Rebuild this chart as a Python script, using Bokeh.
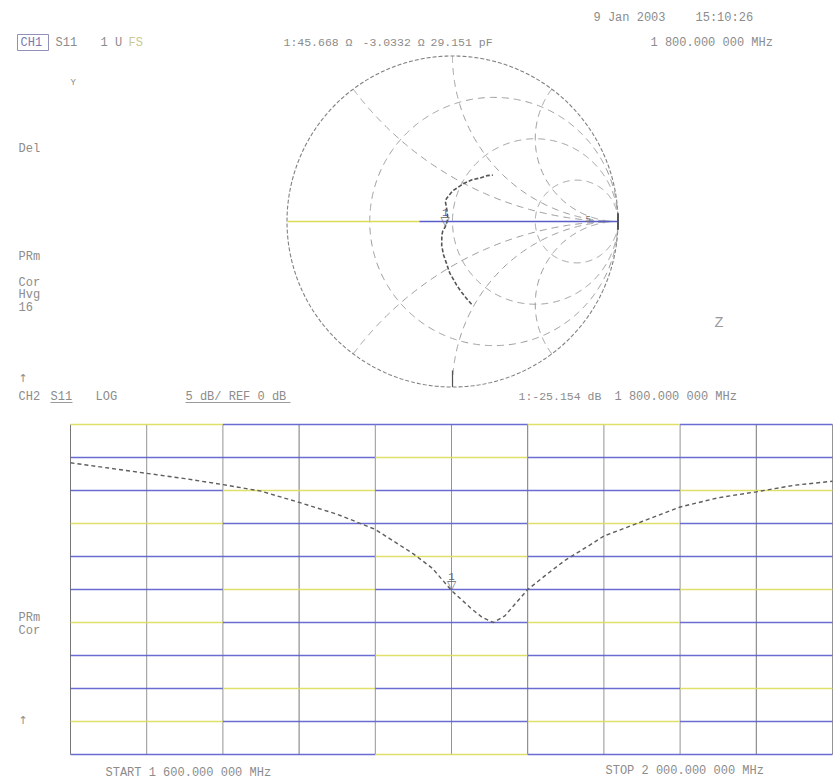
import numpy as np
from bokeh.plotting import figure
from bokeh.models import Range1d
from bokeh.embed import file_html
from bokeh.resources import INLINE
from bokeh.core.properties import value

# ---- S11 sweep, 1600-2000 MHz ----
freq_mhz = [1600, 1620, 1640, 1660, 1680, 1700, 1720, 1740, 1760, 1780, 1790, 1800,
            1810, 1816, 1822, 1828, 1834, 1840, 1850, 1860, 1873, 1880, 1900, 1920,
            1940, 1960, 1980, 2000]
s11_db = [-5.8, -6.6, -7.4, -8.2, -9.1, -10.1, -11.8, -13.6, -15.9, -19.6, -21.8, -25.154,
          -27.8, -29.2, -30.0, -29.0, -27.0, -25.0, -22.7, -20.5, -18.2, -16.9, -14.7, -12.5,
          -11.1, -10.2, -9.2, -8.6]
s11_phase_deg = [-77, -80, -83, -86, -89, -93, -98, -105, -114, -128, -136, -143.2,
                 -158, -172, -195, -215, -228, -236, -243, -247, -250, -255, -270, -286,
                 -295, -302, -307, -311]

# marker 1
marker_freq = 1800.0
marker_db = -25.154
marker_r_ohm = 45.668
marker_x_ohm = -3.0332
z0_ohm = 50.0

# log-mag graticule (5 dB/div, REF 0 dB at top)
x_ticks = [1600, 1640, 1680, 1720, 1760, 1800, 1840, 1880, 1920, 1960, 2000]
y_ticks = [0, -5, -10, -15, -20, -25, -30, -35, -40, -45, -50]

# Smith graticule
r_circles = [1 / 3, 1.0, 3.0]
x_arcs = [0.5, 1.0, 2.0, -0.5, -1.0, -2.0]

W, H = 834, 781
LM_LEFT, LM_RIGHT, LM_TOP, LM_BOTTOM = 70, 832, 424, 754
SM_CX, SM_CY, SM_R = 452, 221, 165.5

mhz_per_px = (x_ticks[-1] - x_ticks[0]) / (LM_RIGHT - LM_LEFT)
db_per_px = (y_ticks[0] - y_ticks[-1]) / (LM_BOTTOM - LM_TOP)
x_range = Range1d(x_ticks[0] - LM_LEFT * mhz_per_px, x_ticks[-1] + (W - LM_RIGHT) * mhz_per_px)
y_range = Range1d(y_ticks[-1] - (H - LM_BOTTOM) * db_per_px, y_ticks[0] + LM_TOP * db_per_px)

p = figure(width=W, height=H, x_range=x_range, y_range=y_range,
           x_axis_type=None, y_axis_type=None, toolbar_location=None,
           output_backend="svg", min_border=0, outline_line_color=None)
p.min_border_left = p.min_border_right = p.min_border_top = p.min_border_bottom = 0
p.background_fill_color = "white"
p.border_fill_color = "white"
p.extra_x_ranges = {"g": Range1d(-SM_CX / SM_R, (W - SM_CX) / SM_R)}
p.extra_y_ranges = {"g": Range1d(-(H - SM_CY) / SM_R, SM_CY / SM_R)}

BLUE = "#5a5ccc"
YELLOW = "#dcdc5a"
GRID = "#707070"
SGRID = "#9a9a9a"
TRACE = "#5e5e5e"
TEXT = "#8c8c8c"


def page(px, py):
    return x_range.start + px * mhz_per_px, y_range.end - py * db_per_px


def label(px, py, s, size="12px", color=TEXT, font="Liberation Mono", align="left"):
    x, y = page(px, py)
    p.text([x], [y], text=[s], text_font=value(font), text_font_size=size,
           text_color=color, text_align=align, text_baseline="middle")


# ---- log-mag graticule ----
for i, f in enumerate(x_ticks):
    p.line([f, f], [y_ticks[0], y_ticks[-1]], line_color=GRID, line_width=1,
           line_alpha=0.95 if i % 3 == 0 else 0.75)

seg = np.linspace(x_ticks[0], x_ticks[-1], 6)
for k, d in enumerate(y_ticks):
    for j in range(5):
        col = YELLOW if (j + k) % 3 == 0 else BLUE
        p.line([seg[j], seg[j + 1]], [d, d], line_color=col, line_width=1.5, line_alpha=0.9)

# ---- log-mag trace ----
p.line(freq_mhz, s11_db, line_color=TRACE, line_width=1.4, line_dash="4 3")
p.text([marker_freq], [marker_db], text=["▽"], text_font=value("DejaVu Sans"),
       text_font_size="12px", text_color="#666666", text_align="center",
       text_baseline="bottom", y_offset=1)
p.text([marker_freq], [marker_db], text=["1"], text_font=value("Liberation Mono"),
       text_font_size="11px", text_color="#666666", text_align="center",
       text_baseline="bottom", y_offset=-11)

# ---- Smith graticule ----
t = np.linspace(0, 2 * np.pi, 721)
p.line(np.cos(t), np.sin(t), x_range_name="g", y_range_name="g",
       line_color="#808080", line_width=1.1, line_dash="4 2")
for r in r_circles:
    c, rad = r / (1 + r), 1 / (1 + r)
    p.line(c + rad * np.cos(t), rad * np.sin(t), x_range_name="g", y_range_name="g",
           line_color=SGRID, line_width=1, line_dash="7 5")
rr = np.concatenate([[0.0], np.logspace(-3, 3, 500)])
for xv in x_arcs:
    g = (rr + 1j * xv - 1) / (rr + 1j * xv + 1)
    p.line(g.real, g.imag, x_range_name="g", y_range_name="g",
           line_color=SGRID, line_width=1, line_dash="7 5")

# real axis
p.line([-1, -0.2], [0, 0], x_range_name="g", y_range_name="g", line_color=YELLOW, line_width=1.6)
p.line([-0.2, 1], [0, 0], x_range_name="g", y_range_name="g", line_color=BLUE, line_width=1.6)
# rim ticks
p.line([0, 0], [-1, -0.9], x_range_name="g", y_range_name="g", line_color="#555555", line_width=1.2)
p.line([1, 1], [-0.05, 0.05], x_range_name="g", y_range_name="g", line_color="#555555", line_width=2)

# ---- Smith trace ----
mag = 10 ** (np.array(s11_db) / 20)
ph = np.deg2rad(np.array(s11_phase_deg))
gam = mag * np.exp(1j * ph)
p.line(gam.real, gam.imag, x_range_name="g", y_range_name="g",
       line_color="#555555", line_width=1.6, line_dash="4 2")

zm = complex(marker_r_ohm, marker_x_ohm) / z0_ohm
gm = (zm - 1) / (zm + 1)
p.text([gm.real], [gm.imag], text=["▽"], text_font=value("DejaVu Sans"),
       text_font_size="12px", text_color="#666666", text_align="center",
       text_baseline="bottom", y_offset=1, x_range_name="g", y_range_name="g")
p.text([gm.real], [gm.imag], text=["1"], text_font=value("Liberation Mono"),
       text_font_size="11px", text_color="#5a5ab0", text_align="center",
       text_baseline="bottom", y_offset=-11, x_range_name="g", y_range_name="g")

# ---- annotation text ----
label(593, 17, "9 Jan 2003")
label(695, 17, "15:10:26")
label(20, 42, "CH1", color="#7a7ab0")
x0, y0 = page(17, 34)
x1, y1 = page(48, 50)
p.quad(left=[x0], right=[x1], top=[y0], bottom=[y1], fill_color=None, line_color="#9090b8", line_width=1)
label(55, 42, "S11")
label(100, 42, "1 U")
label(128, 42, "FS", color="#c8c890")
label(283, 42, "1:45.668 Ω", size="11.5px")
label(362, 42, "-3.0332 Ω", size="11.5px")
label(430, 42, "29.151 pF", size="11.5px")
label(650, 42, "1 800.000 000 MHz")
label(70, 82, "Y", size="9px")
label(18, 148, "Del")
label(18, 256, "PRm")
label(18, 282, "Cor")
label(18, 294, "Hvg")
label(18, 306, "16")
label(18, 378, "↑", font="DejaVu Sans", size="11px")
label(714, 323, "Z", size="15px", color="#9a9a9a")
label(585, 218, "5", size="9px", color="#707070")

label(18, 396, "CH2")
label(50, 396, "S11")
label(95, 396, "LOG")
label(185, 396, "5 dB/ REF 0 dB")
label(518, 396, "1:-25.154 dB", size="11.5px")
label(614, 396, "1 800.000 000 MHz")
for a, b in [(50, 72), (185, 290)]:
    xa, ya = page(a, 402)
    xb, _ = page(b, 402)
    p.line([xa, xb], [ya, ya], line_color="#9a9a9a", line_width=1)
label(18, 617, "PRm")
label(18, 630, "Cor")
label(18, 720, "↑", font="DejaVu Sans", size="11px")
label(105, 772, "START 1 600.000 000 MHz")
label(605, 770, "STOP 2 000.000 000 MHz")

open("out.html", "w").write(file_html(p, INLINE))
